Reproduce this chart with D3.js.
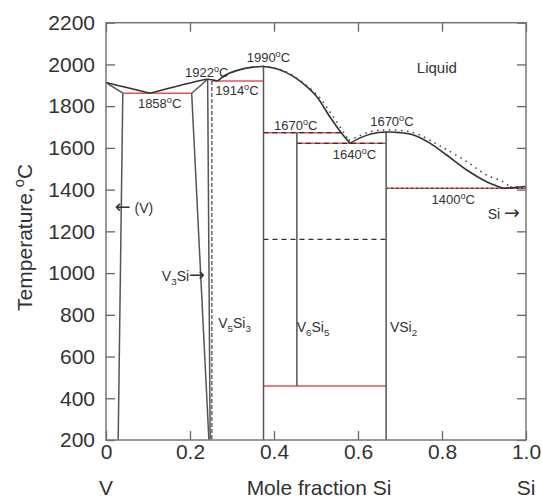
<!DOCTYPE html>
<html>
<head>
<meta charset="utf-8">
<script src="https://cdn.jsdelivr.net/npm/d3@7"></script>
<style>
  body { margin: 0; background: #fff; }
  svg text { font-family: "Liberation Sans", Arial, sans-serif; fill: #333; }
</style>
</head>
<body>
<svg id="chart" width="542" height="498"></svg>
<script>
let width = 542
let height = 498
let margin = { top: 22.7, right: 16, bottom: 58, left: 106 }

let xTicks = [0, 0.2, 0.4, 0.6, 0.8, 1.0]
let yTicks = [200, 400, 600, 800, 1000, 1200, 1400, 1600, 1800, 2000, 2200]

// liquidus branches, [mole fraction Si, temperature]
let liqV = [[0, 1913], [0.052, 1888], [0.105, 1862]]
let liqV3Si = [[0.105, 1862], [0.176, 1899], [0.222, 1922], [0.242, 1929], [0.266, 1921]]
let liqV5Si3 = [[0.266, 1921], [0.287, 1952], [0.319, 1975], [0.35, 1987], [0.375, 1990], [0.41, 1977],
  [0.446, 1943], [0.476, 1897], [0.502, 1845], [0.533, 1749], [0.561, 1670], [0.581, 1622]]
let liqVSi2 = [[0.581, 1622], [0.605, 1648], [0.633, 1668], [0.667, 1676], [0.70, 1673], [0.732, 1662],
  [0.771, 1623], [0.811, 1566], [0.859, 1494], [0.906, 1438], [0.946, 1406]]
let liqSi = [[0.946, 1406], [1.0, 1415]]

// second assessment (dotted)
let dotA = [[0.266, 1921], [0.287, 1952], [0.319, 1975], [0.35, 1987], [0.375, 1991], [0.414, 1976],
  [0.452, 1937], [0.505, 1849], [0.538, 1758], [0.567, 1671], [0.578, 1636]]
let dotB = [[0.578, 1636], [0.6, 1655], [0.633, 1680], [0.667, 1686], [0.731, 1674], [0.783, 1623],
  [0.811, 1592], [0.859, 1534], [0.906, 1470], [0.945, 1438], [0.962, 1413]]
let dotC = [[0.962, 1413], [1.0, 1416]]

// phase boundaries
let phaseLines = [
  [[0, 1913], [0.04, 1862]],
  [[0.04, 1862], [0.029, 200]],
  [[0.204, 1862], [0.242, 1929]],
  [[0.204, 1862], [0.245, 200]],
  [[0.242, 1929], [0.248, 200]],
  [[0.375, 1990], [0.375, 200]],
  [[0.4545, 1673], [0.4545, 459]],
  [[0.667, 1676], [0.667, 200]]
]
let dashedPhaseLines = [[[0.252, 1921], [0.252, 200]]]

// invariant lines [x1, x2, T]
let redLines = [[0.04, 0.204, 1862], [0.252, 0.375, 1921], [0.375, 0.561, 1673],
  [0.4545, 0.667, 1622], [0.667, 1.0, 1406], [0.375, 0.667, 459]]
let dashLines = [[0.375, 0.561, 1673], [0.4545, 0.667, 1622], [0.375, 0.667, 1162]]
let dotLines = [[0.667, 1.0, 1406]]

// labels [text, x, T, size]   ^ = superscript, _ = subscript
let labels = [
  ['1858^oC', 0.076, 1791, 13],
  ['1922^oC', 0.188, 1940, 13],
  ['1914^oC', 0.260, 1853, 13],
  ['1990^oC', 0.335, 2013, 13],
  ['1670^oC', 0.400, 1686, 13],
  ['1670^oC', 0.629, 1705, 13],
  ['1640^oC', 0.540, 1545, 13],
  ['1400^oC', 0.775, 1331, 13],
  ['Liquid', 0.740, 1957, 15],
  ['Si \u2192', 0.909, 1258, 14],
  ['\u2190 (V)', 0.021, 1288, 14],
  ['V_3Si\u2192', 0.133, 962, 14],
  ['V_5Si_3', 0.267, 737, 14],
  ['V_6Si_5', 0.454, 718, 14],
  ['VSi_2', 0.676, 718, 14]
]

let svg = d3.select('#chart')
let x = d3.scaleLinear().domain([0, 1]).range([margin.left, width - margin.right])
let y = d3.scaleLinear().domain([200, 2200]).range([height - margin.bottom, margin.top])

let curve = d3.line().x(d => x(d[0])).y(d => y(d[1])).curve(d3.curveCatmullRom.alpha(0.5))
let straight = d3.line().x(d => x(d[0])).y(d => y(d[1]))

function richText (sel, str, size) {
  let parts = str.split(/(\^.|_.|[\u2190\u2192])/).filter(p => p !== '')
  let shift = 0
  parts.forEach(p => {
    let t = sel.append('tspan')
    let target = 0
    if (p[0] === '^') { target = -size * 0.4; p = p.slice(1) } else if (p[0] === '_') { target = size * 0.3; p = p.slice(1) }
    t.attr('dy', target - shift).text(p)
    if (target !== 0) t.attr('font-size', size * 0.7)
    // arrows look too short in Liberation, use DejaVu
    if (p === '\u2190' || p === '\u2192') t.attr('font-family', '"DejaVu Sans"').attr('font-size', size * 1.35)
    shift = target
  })
}

/*** axes ***/
let axes = svg.append('g').attr('class', 'axes')
axes.append('g')
  .attr('transform', `translate(0,${y(200)})`)
  .call(d3.axisBottom(x).tickValues(xTicks).tickSizeInner(-9).tickSizeOuter(0).tickPadding(4)
    .tickFormat(d => d === 0 ? '0' : d3.format('.1f')(d)))
axes.append('g')
  .attr('transform', `translate(0,${y(2200)})`)
  .call(d3.axisTop(x).tickValues(xTicks).tickSizeInner(-9).tickSizeOuter(0).tickFormat(''))
axes.append('g')
  .attr('transform', `translate(${x(0)},0)`)
  .call(d3.axisLeft(y).tickValues(yTicks).tickSizeInner(-9).tickSizeOuter(0).tickPadding(11).tickFormat(d3.format('d')))
axes.append('g')
  .attr('transform', `translate(${x(1)},0)`)
  .call(d3.axisRight(y).tickValues(yTicks).tickSizeInner(-9).tickSizeOuter(0).tickFormat(''))

axes.selectAll('.domain').remove()
axes.selectAll('.tick line').attr('stroke', '#666').attr('stroke-width', 1.3)
axes.selectAll('.tick text')
  .attr('font-family', '"Liberation Sans", Arial, sans-serif')
  .attr('font-size', 21)
  .attr('fill', '#333')

/*** invariant lines ***/
let plot = svg.append('g').attr('id', 'diagram')

plot.selectAll('.red-line')
  .data(redLines)
  .enter()
  .append('line')
  .attr('class', 'red-line')
  .attr('x1', d => x(d[0])).attr('x2', d => x(d[1]))
  .attr('y1', d => y(d[2])).attr('y2', d => y(d[2]))
  .attr('stroke', '#e8505a')
  .attr('stroke-width', 1.5)

plot.selectAll('.dash-line')
  .data(dashLines)
  .enter()
  .append('line')
  .attr('class', 'dash-line')
  .attr('x1', d => x(d[0])).attr('x2', d => x(d[1]))
  .attr('y1', d => y(d[2])).attr('y2', d => y(d[2]))
  .attr('stroke', '#333')
  .attr('stroke-width', 1.3)
  .attr('stroke-dasharray', '5,4')

plot.selectAll('.dot-line')
  .data(dotLines)
  .enter()
  .append('line')
  .attr('class', 'dot-line')
  .attr('x1', d => x(d[0])).attr('x2', d => x(d[1]))
  .attr('y1', d => y(d[2])).attr('y2', d => y(d[2]))
  .attr('stroke', '#333')
  .attr('stroke-width', 1.3)
  .attr('stroke-dasharray', '2,3')

/*** phase boundaries ***/
plot.selectAll('.phase')
  .data(phaseLines)
  .enter()
  .append('path')
  .attr('class', 'phase')
  .attr('d', straight)
  .attr('fill', 'none')
  .attr('stroke', '#555')
  .attr('stroke-width', 1.5)

plot.selectAll('.phase-dash')
  .data(dashedPhaseLines)
  .enter()
  .append('path')
  .attr('class', 'phase-dash')
  .attr('d', straight)
  .attr('fill', 'none')
  .attr('stroke', '#555')
  .attr('stroke-width', 1.3)
  .attr('stroke-dasharray', '4,2')

/*** liquidus ***/
plot.selectAll('.liquidus')
  .data([liqV, liqV3Si, liqV5Si3, liqVSi2, liqSi])
  .enter()
  .append('path')
  .attr('class', 'liquidus')
  .attr('d', curve)
  .attr('fill', 'none')
  .attr('stroke', '#333')
  .attr('stroke-width', 1.6)

plot.selectAll('.liquidus-dot')
  .data([dotA, dotB, dotC])
  .enter()
  .append('path')
  .attr('class', 'liquidus-dot')
  .attr('d', curve)
  .attr('fill', 'none')
  .attr('stroke', '#444')
  .attr('stroke-width', 1.5)
  .attr('stroke-dasharray', '1.5,4.5')

/*** frame ***/
svg.append('rect')
  .attr('x', x(0)).attr('y', y(2200))
  .attr('width', x(1) - x(0)).attr('height', y(200) - y(2200))
  .attr('fill', 'none')
  .attr('stroke', '#777')
  .attr('stroke-width', 1.5)

/*** labels ***/
labels.forEach(l => {
  let t = svg.append('text')
    .attr('x', x(l[1]))
    .attr('y', y(l[2]))
    .attr('font-size', l[3])
  richText(t, l[0], l[3])
})

let yTitle = svg.append('text')
  .attr('transform', `translate(32,${(y(200) + y(2200)) / 2 + 6}) rotate(-90)`)
  .attr('text-anchor', 'middle')
  .attr('font-size', 21)
richText(yTitle, 'Temperature,^oC', 21)

svg.append('text')
  .attr('x', (x(0) + x(1)) / 2 + 3)
  .attr('y', 495)
  .attr('text-anchor', 'middle')
  .attr('font-size', 21)
  .text('Mole fraction Si')

svg.append('text')
  .attr('x', x(0)).attr('y', 495)
  .attr('text-anchor', 'middle')
  .attr('font-size', 21)
  .text('V')

svg.append('text')
  .attr('x', x(1)).attr('y', 495)
  .attr('text-anchor', 'middle')
  .attr('font-size', 21)
  .text('Si')
</script>
</body>
</html>
